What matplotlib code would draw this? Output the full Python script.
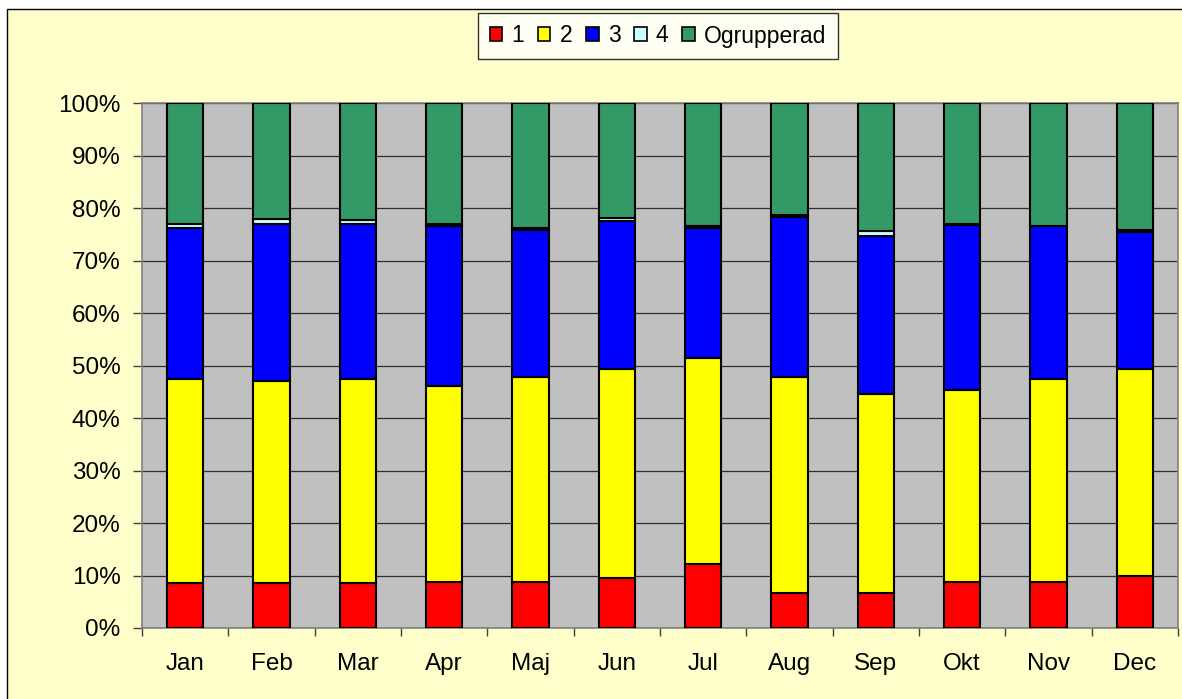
import matplotlib
matplotlib.use("Agg")
import matplotlib.pyplot as plt
from matplotlib.patches import Rectangle, Patch
import numpy as np

plt.rcParams['font.family'] = ['Liberation Sans', 'DejaVu Sans']

months = ["Jan", "Feb", "Mar", "Apr", "Maj", "Jun",
          "Jul", "Aug", "Sep", "Okt", "Nov", "Dec"]
series_names = ["1", "2", "3", "4", "Ogrupperad"]

# Share (%) of each group per month
grp1 = [8.5, 8.5, 8.6, 8.8, 8.8, 9.6, 12.2, 6.7, 6.7, 8.8, 8.8, 10.0]
grp2 = [39.0, 38.6, 38.9, 37.3, 39.0, 39.8, 39.3, 41.1, 37.9, 36.5, 38.7, 39.4]
grp3 = [28.8, 29.9, 29.5, 30.5, 28.1, 28.2, 24.7, 30.6, 30.1, 31.6, 29.1, 26.0]
grp4 = [0.7, 0.9, 0.8, 0.4, 0.4, 0.5, 0.4, 0.4, 1.0, 0.1, 0.1, 0.5]
ogrupperad = [23.0, 22.1, 22.2, 23.0, 23.7, 21.9, 23.4, 21.2, 24.3, 23.0, 23.3, 24.1]

colors = ["#FF0000", "#FFFF00", "#0000FF", "#CCFFFF", "#339966"]

W, H = 1182, 699
fig = plt.figure(figsize=(W / 100, H / 100), dpi=100)
fig.patch.set_facecolor("white")

# Chart area frame
frame = Rectangle((7 / W, -0.05), 1.2, 1 - 8.5 / H + 0.05,
                  transform=fig.transFigure, facecolor="#FFFFCC",
                  edgecolor="black", linewidth=1.0, zorder=-10)
fig.add_artist(frame)

ax = fig.add_axes([142 / W, 1 - 628 / H, (1178 - 142) / W, (628 - 103.3) / H])
ax.set_zorder(1)
ax.set_facecolor("#C0C0C0")
for s in ax.spines.values():
    s.set_color("#808080")
    s.set_linewidth(1.2)

data = [grp1, grp2, grp3, grp4, ogrupperad]
x = np.arange(len(months))
totals = np.sum(np.array(data), axis=0)
bottom = np.zeros(len(months))
for name, vals, col in zip(series_names, data, colors):
    pct = np.array(vals) / totals * 100
    ax.bar(x, pct, width=0.42, bottom=bottom, color=col,
           edgecolor="black", linewidth=1.5, zorder=3, label=name)
    bottom += pct

ax.set_xlim(-0.5, len(months) - 0.5)
ax.set_ylim(0, 100)
ax.set_yticks(np.arange(0, 101, 10))
ax.set_yticklabels([f"{v}%" for v in range(0, 101, 10)])
ax.yaxis.grid(True, color="#303030", linewidth=0.9, zorder=1)
ax.set_axisbelow(True)

ax.set_xticks(x)
ax.set_xticklabels(months)
ax.set_xticks(np.arange(-0.5, len(months)), minor=True)
ax.tick_params(axis="x", which="major", length=0, pad=18, labelsize=17.5)
ax.tick_params(axis="x", which="minor", length=5.5, width=1, color="#404040")
ax.tick_params(axis="y", length=6.5, width=1, color="#404040", pad=9, labelsize=17.5)

handles = [Patch(facecolor=c, edgecolor="black", linewidth=1.2) for c in colors]
leg = fig.legend(handles, series_names, loc="center", bbox_to_anchor=(658 / W, 1 - 36 / H),
                 ncol=5, fontsize=16.5, frameon=True, fancybox=False,
                 handlelength=0.55, handleheight=0.55, handletextpad=0.4,
                 columnspacing=0.6, borderpad=0.5, borderaxespad=0)
leg.get_frame().set_edgecolor("black")
leg.get_frame().set_linewidth(1.0)
leg.get_frame().set_facecolor("white")
leg.set_zorder(5)

fig.savefig("out.png", dpi=100, facecolor=fig.get_facecolor())
